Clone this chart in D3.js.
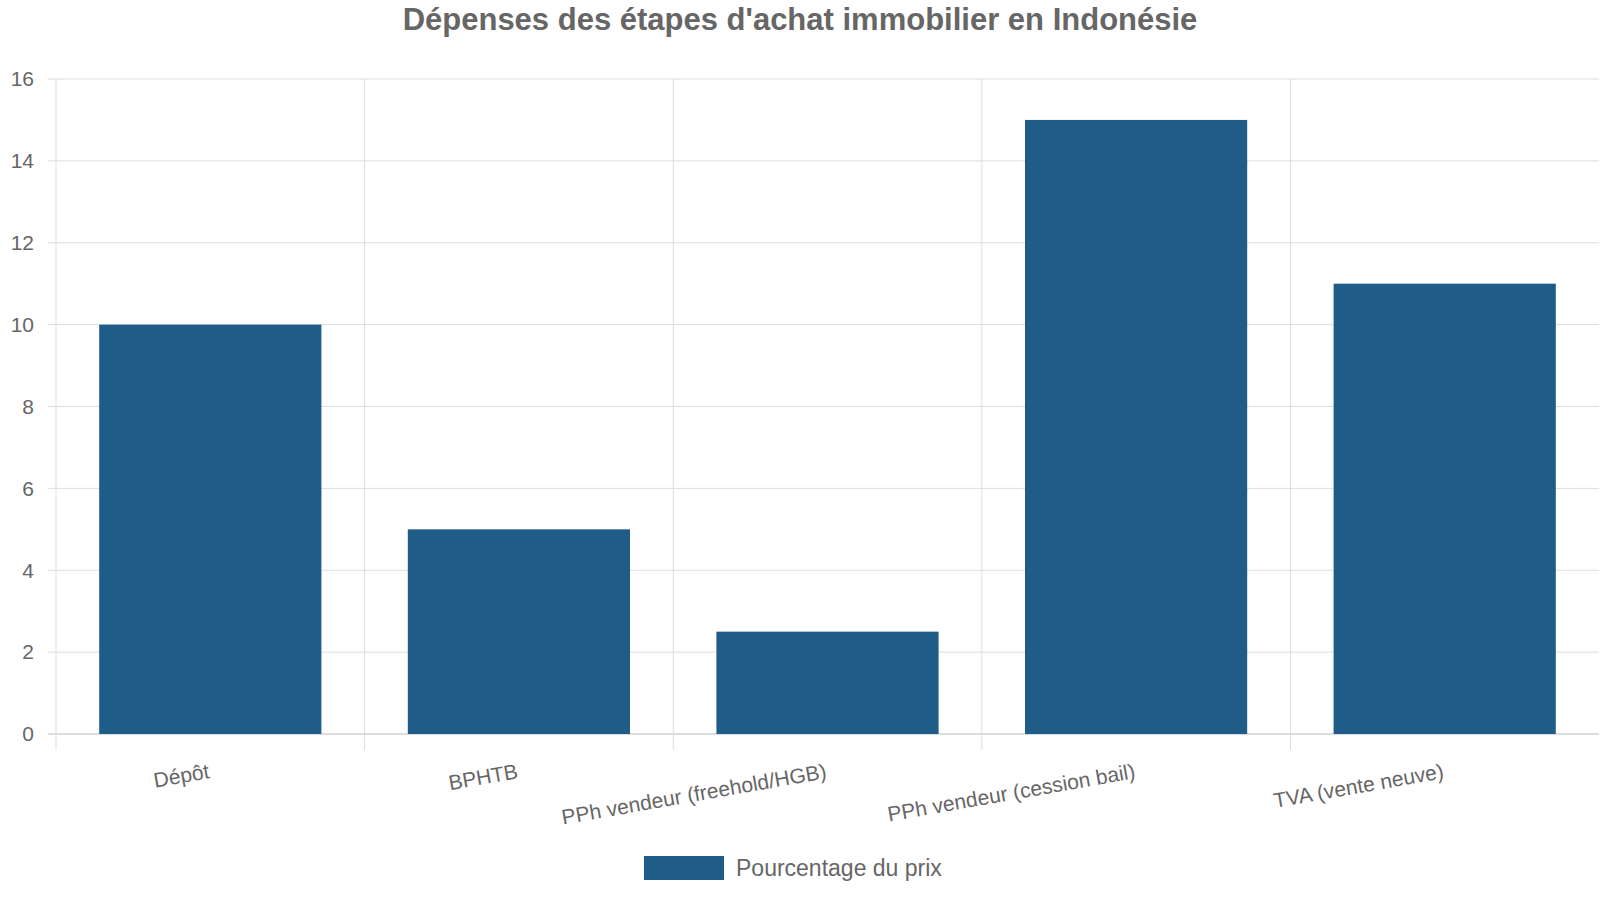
<!DOCTYPE html>
<html lang="fr">
<head>
<meta charset="UTF-8">
<title>Dépenses des étapes d'achat immobilier en Indonésie</title>
<script src="https://d3js.org/d3.v7.min.js"></script>
<style>
  body, html { margin: 0; padding: 0; overflow: hidden; background: #fff; }
  svg { display: block; font-family: "Liberation Sans", Arial, sans-serif; }
</style>
</head>
<body>
<script>
  const categories = ["Dépôt", "BPHTB", "PPh vendeur (freehold/HGB)", "PPh vendeur (cession bail)", "TVA (vente neuve)"];
  const values = [10, 5, 2.5, 15, 11];
  const yTicks = [0, 2, 4, 6, 8, 10, 12, 14, 16];
  const seriesName = "Pourcentage du prix";

  const width = 1600, height = 900;
  const margin = { top: 79, right: 1, bottom: 166, left: 56 };
  const color = "#1f5c87";

  const svg = d3.select("body").append("svg")
    .attr("width", width).attr("height", height);

  const x = d3.scaleBand().domain(categories)
    .range([margin.left, width - margin.right]).paddingInner(0.28).paddingOuter(0.14);
  const xb = d3.scaleBand().domain(categories).range([margin.left, width - margin.right]);
  const y = d3.scaleLinear().domain([0, 16]).range([height - margin.bottom, margin.top]);

  // horizontal grid
  svg.append("g").selectAll("line").data(yTicks).enter().append("line")
    .attr("x1", margin.left - 8).attr("x2", width - margin.right)
    .attr("y1", d => y(d)).attr("y2", d => y(d))
    .attr("stroke", d => d === 0 ? "#bbb" : "#ddd");

  // vertical grid at band boundaries
  const bounds = categories.map(c => xb(c));
  svg.append("g").selectAll("line").data(bounds).enter().append("line")
    .attr("x1", d => d).attr("x2", d => d)
    .attr("y1", margin.top).attr("y2", y(0) + 16)
    .attr("stroke", "#ddd");

  // y tick labels
  svg.append("g").selectAll("text").data(yTicks).enter().append("text")
    .attr("x", margin.left - 22).attr("y", d => y(d)).attr("dy", "0.35em")
    .attr("text-anchor", "end").attr("font-size", 21).attr("fill", "#666")
    .text(d => d);

  // bars
  svg.append("g").selectAll("rect").data(values).enter().append("rect")
    .attr("x", (d, i) => x(categories[i])).attr("width", x.bandwidth())
    .attr("y", d => y(d)).attr("height", d => y(0) - y(d))
    .attr("fill", color);

  // x labels
  svg.append("g").selectAll("text").data(categories).enter().append("text")
    .attr("transform", d => `translate(${xb(d) + xb.bandwidth() / 2},${y(0) + 44}) rotate(-10)`)
    .attr("text-anchor", "end").attr("font-size", 21).attr("fill", "#666")
    .text(d => d);

  // title
  svg.append("text").attr("x", width / 2).attr("y", 30)
    .attr("text-anchor", "middle").attr("font-size", 31).attr("font-weight", "bold")
    .attr("fill", "#666").text("Dépenses des étapes d'achat immobilier en Indonésie");

  // legend
  svg.append("rect").attr("x", 644).attr("y", 856).attr("width", 80).attr("height", 24).attr("fill", color);
  svg.append("text").attr("x", 736).attr("y", 868).attr("dy", "0.35em")
    .attr("font-size", 23).attr("fill", "#666").text(seriesName);
</script>
</body>
</html>
